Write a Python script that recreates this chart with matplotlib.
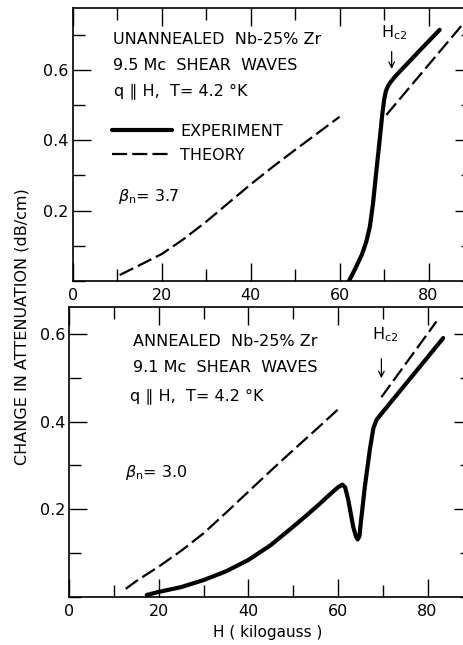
import matplotlib
matplotlib.use("Agg")
import matplotlib.pyplot as plt
from matplotlib.lines import Line2D
from matplotlib.ticker import MultipleLocator

# upper panel: unannealed Nb-25% Zr, 9.5 Mc
top_theory_h1 = [10.5, 15, 20, 25, 30, 35, 40, 45, 50, 55, 60]
top_theory_a1 = [0.017, 0.045, 0.077, 0.12, 0.169, 0.222, 0.275, 0.325, 0.373, 0.42, 0.467]
top_theory_h2 = [70.5, 89.5]
top_theory_a2 = [0.472, 0.757]
top_exp_h = [62.1, 63.5, 65.0, 66.0, 66.8, 67.5, 68.2, 69.0, 69.6, 70.0, 70.4, 70.9, 71.5, 72.4, 73.5, 78, 82.5]
top_exp_a = [0.0, 0.035, 0.075, 0.112, 0.155, 0.22, 0.306, 0.401, 0.475, 0.515, 0.54, 0.555, 0.566, 0.58, 0.595, 0.655, 0.714]

# lower panel: annealed Nb-25% Zr, 9.1 Mc
bot_theory_h1 = [12.6, 15, 20, 25, 30, 35, 40, 45, 50, 55, 60]
bot_theory_a1 = [0.018, 0.036, 0.069, 0.105, 0.145, 0.192, 0.24, 0.288, 0.335, 0.381, 0.428]
bot_theory_h2 = [69.7, 82.0]
bot_theory_a2 = [0.456, 0.629]
bot_exp_h = [17.3, 20, 25, 30, 35, 40, 45, 50, 53, 56, 58, 60, 61.0, 61.6, 62.3, 63.4, 64.0,
             64.4, 64.8, 65.0, 66.0, 67.1, 67.9, 68.6, 70, 72, 76, 80, 83.5]
bot_exp_a = [0.004, 0.011, 0.022, 0.038, 0.058, 0.084, 0.118, 0.16, 0.186, 0.213, 0.232, 0.25,
             0.256, 0.25, 0.221, 0.16, 0.138, 0.131, 0.138, 0.16, 0.251, 0.335, 0.385, 0.404,
             0.422, 0.447, 0.497, 0.547, 0.591]

x_ticks = [0, 20, 40, 60, 80]
y_ticks = [0.2, 0.4, 0.6]

EXP = dict(color="black", lw=3.0, solid_capstyle="round", solid_joinstyle="round")
THE = dict(color="black", lw=1.6, linestyle=(0, (6.8, 2.3)), dash_capstyle="butt")
TXT = dict(fontsize=11.5, ha="left", va="center")


def style_axes(ax, ytop):
    ax.set_xlim(0, 90)
    ax.set_ylim(0, ytop)
    ax.xaxis.set_major_locator(MultipleLocator(20))
    ax.xaxis.set_minor_locator(MultipleLocator(10))
    ax.yaxis.set_major_locator(MultipleLocator(0.2))
    ax.yaxis.set_minor_locator(MultipleLocator(0.1))
    ax.set_xticks(x_ticks)
    ax.set_xticklabels([str(v) for v in x_ticks])
    ax.set_yticks(y_ticks)
    ax.set_yticklabels([f"{v:.1f}" for v in y_ticks])
    ax.tick_params(which="both", direction="in", top=True, right=True, width=1.0)
    ax.tick_params(which="major", length=13, labelsize=11.5)
    ax.tick_params(which="minor", length=8.5)
    ax.tick_params(axis="x", pad=5)
    ax.tick_params(axis="y", pad=3)
    for s in ax.spines.values():
        s.set_linewidth(1.2)


fig = plt.figure(figsize=(4.64, 6.45), dpi=100)
ax1 = fig.add_axes([73 / 464, 364 / 645, 400 / 464, 273 / 645])
ax2 = fig.add_axes([69.3 / 464, 48.3 / 645, 403 / 464, 289.7 / 645])

# top panel
ax1.plot(top_theory_h1, top_theory_a1, **THE)
ax1.plot(top_theory_h2, top_theory_a2, **THE)
ax1.plot(top_exp_h, top_exp_a, **EXP)
style_axes(ax1, 0.776)
ax1.text(9.0, 0.686, "UNANNEALED  Nb-25% Zr", **TXT)
ax1.text(9.0, 0.612, "9.5 Mc  SHEAR  WAVES", **TXT)
ax1.text(9.3, 0.541, "q \u2225 H,  T= 4.2 \u00b0K", **TXT)
ax1.text(10.1, 0.239, r"$\beta_{\mathregular{n}}$= 3.7", **TXT)
ax1.text(69.4, 0.705, r"$\mathregular{H_{c2}}$", fontsize=11.5, ha="left", va="center")
ax1.annotate("", xy=(71.7, 0.595), xytext=(71.7, 0.66),
             arrowprops=dict(arrowstyle="->", lw=0.9, color="black"))
handles = [Line2D([], [], **EXP), Line2D([], [], **THE)]
ax1.legend(handles, ["EXPERIMENT", "THEORY"], loc="upper left",
           bbox_to_anchor=(0.097, 0.575), frameon=False, fontsize=11.5,
           handlelength=3.8, handletextpad=0.5, labelspacing=0.55,
           borderpad=0, borderaxespad=0)

# bottom panel
ax2.plot(bot_theory_h1, bot_theory_a1, **THE)
ax2.plot(bot_theory_h2, bot_theory_a2, **THE)
ax2.plot(bot_exp_h, bot_exp_a, **EXP)
style_axes(ax2, 0.662)
ax2.text(14.2, 0.583, "ANNEALED  Nb-25% Zr", **TXT)
ax2.text(14.2, 0.523, "9.1 Mc  SHEAR  WAVES", **TXT)
ax2.text(13.6, 0.459, "q \u2225 H,  T= 4.2 \u00b0K", **TXT)
ax2.text(12.4, 0.283, r"$\beta_{\mathregular{n}}$= 3.0", **TXT)
ax2.text(67.5, 0.598, r"$\mathregular{H_{c2}}$", fontsize=11.5, ha="left", va="center")
ax2.annotate("", xy=(69.7, 0.493), xytext=(69.7, 0.55),
             arrowprops=dict(arrowstyle="->", lw=0.9, color="black"))

fig.text(22 / 464, 1 - 327 / 645, "CHANGE IN ATTENUATION (dB/cm)", rotation=90,
         ha="center", va="center", fontsize=11.5)
fig.text(268 / 464, 1 - 633 / 645, "H ( kilogauss )", ha="center", va="center", fontsize=11)

fig.savefig("out.png", dpi=100)
